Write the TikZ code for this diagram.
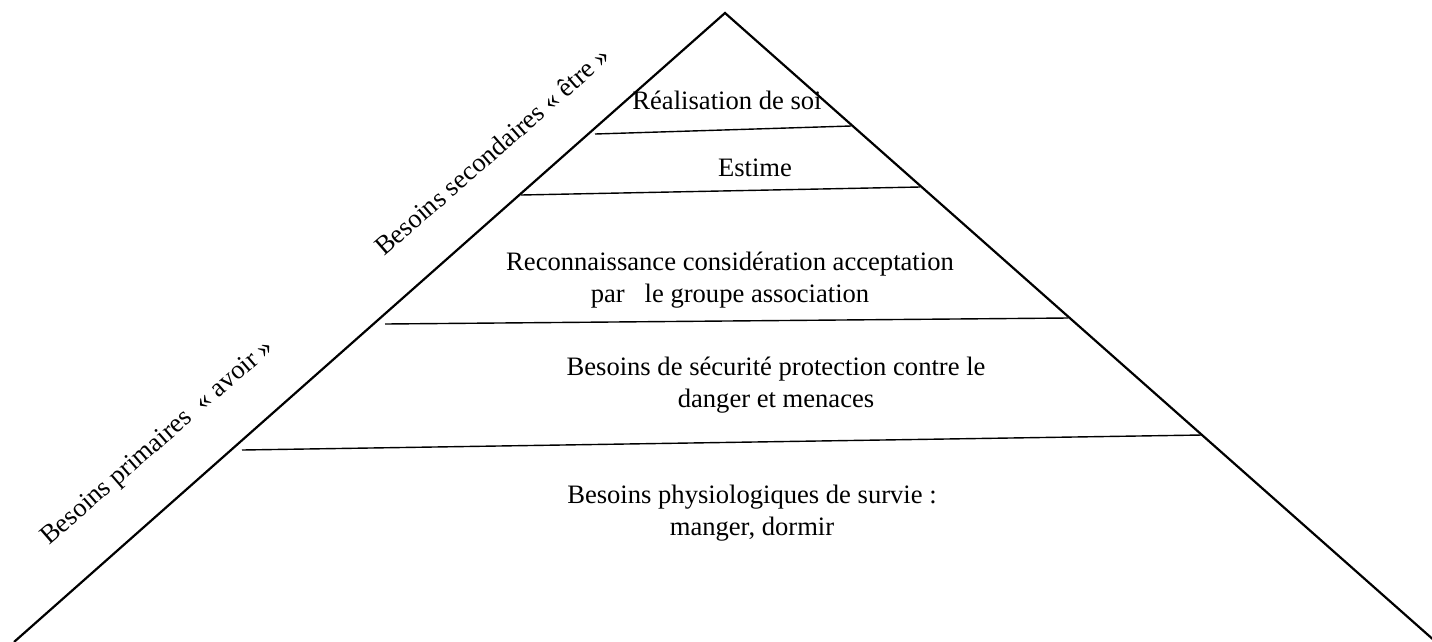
\documentclass[tikz,border=0pt]{standalone}
\usepackage{fontspec}
\setmainfont{Liberation Serif}
\usepackage{tikz}

\tikzset{
  side/.style={line width=2.2pt},
  level/.style={line width=1.4pt},
  need/.style={font=\fontsize{26.6}{32}\selectfont, align=center, inner sep=0pt},
  kind/.style={font=\fontsize{26.6}{32}\selectfont, rotate=41, inner sep=0pt}
}

\begin{document}
\begin{tikzpicture}[x=1pt,y=-1pt]
    \useasboundingbox (0,0) rectangle (1432,641);
    % Pyramid
    \coordinate (top) at (725,13);
    \coordinate (bl) at (14,642);
    \coordinate (br) at (1436,642);
    \draw[side] (bl) -- (top) -- (br);

    % Levels
    \coordinate (l1a) at (595,134); \coordinate (l1b) at (851,126);
    \coordinate (l2a) at (521,195); \coordinate (l2b) at (920,187);
    \coordinate (l3a) at (385,324); \coordinate (l3b) at (1068,318);
    \coordinate (l4a) at (242,450); \coordinate (l4b) at (1202,435);
    \draw[level] (l1a) -- (l1b);
    \draw[level] (l2a) -- (l2b);
    \draw[level] (l3a) -- (l3b);
    \draw[level] (l4a) -- (l4b);

    % Needs
    \node[need] (self) at (727,100) {Réalisation de soi};
    \node[need] (esteem) at (755,168) {Estime};
    \node[need] (belong) at (730,280) {Reconnaissance considération acceptation\\par~~~le groupe association};
    \node[need] (safety) at (776,385) {Besoins de sécurité protection contre le\\danger et menaces};
    \node[need] (body) at (752,513) {Besoins physiologiques de survie :\\manger, dormir};

    % Side labels
    \node[kind] (second) at (492,151) {Besoins secondaires « être »};
    \node[kind] (prim) at (158,443) {Besoins primaires~~« avoir »};
\end{tikzpicture}
\end{document}
